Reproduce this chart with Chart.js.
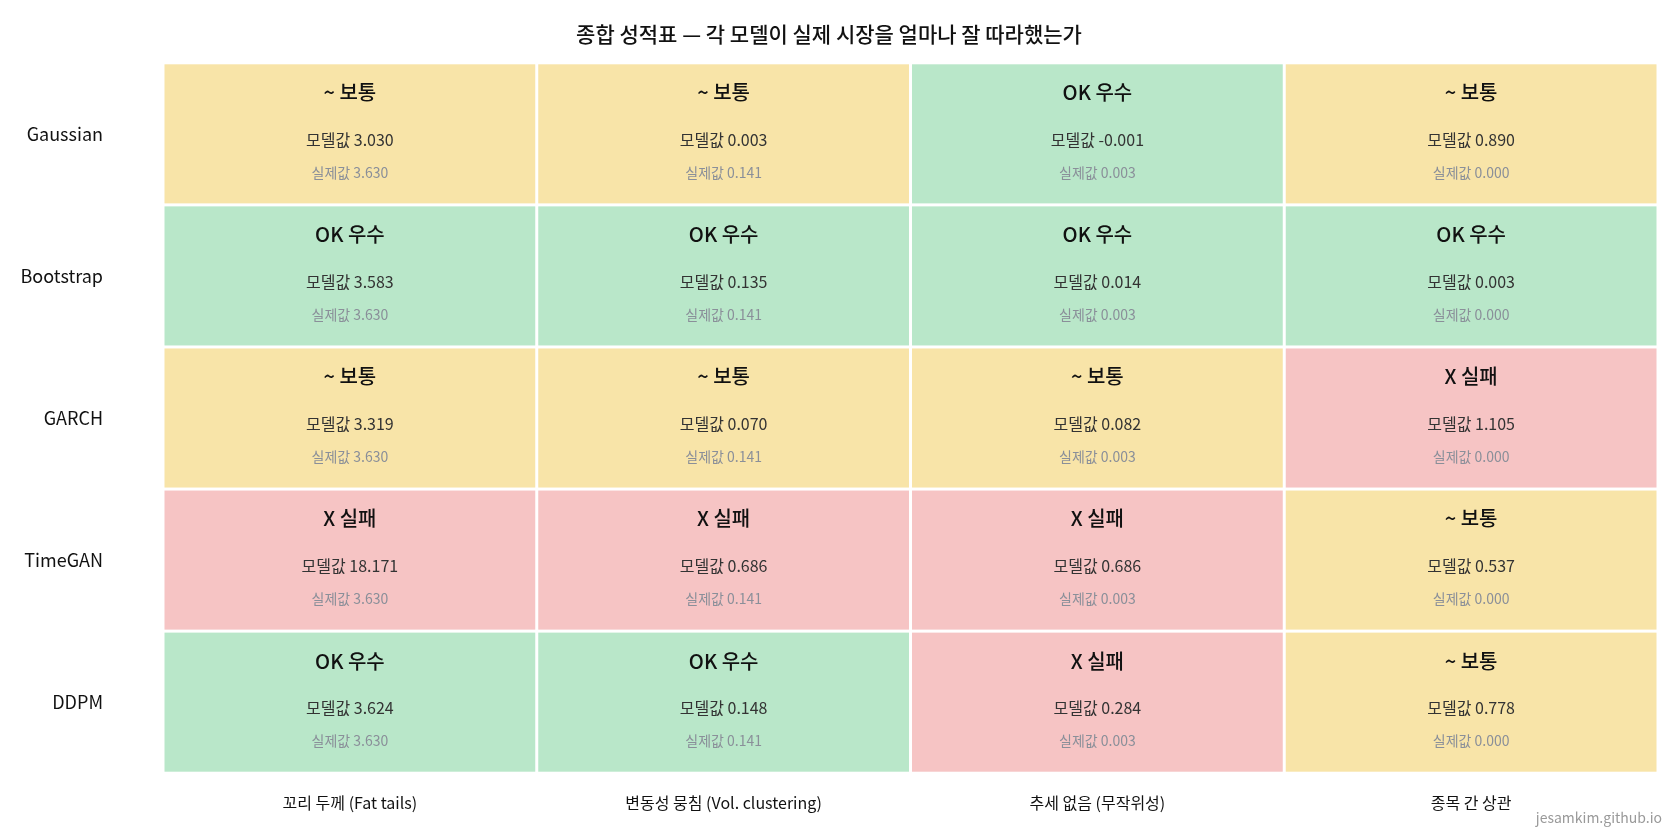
<!DOCTYPE html>
<html><head><meta charset="utf-8">
<script src="https://cdn.jsdelivr.net/npm/chart.js@4"></script>
<style>html,body{margin:0;background:#fff}#w{width:1674px;height:836px}</style>
</head><body><div id="w"><canvas id="c"></canvas></div>
<script>
const models = ["Gaussian","Bootstrap","GARCH","TimeGAN","DDPM"];
const metrics = ["꼬리 두께 (Fat tails)","변동성 뭉침 (Vol. clustering)","추세 없음 (무작위성)","종목 간 상관"];
const realValues = [3.630, 0.141, 0.003, 0.000];
const modelValues = [
  [3.030, 0.003, -0.001, 0.890],
  [3.583, 0.135, 0.014, 0.003],
  [3.319, 0.070, 0.082, 1.105],
  [18.171, 0.686, 0.686, 0.537],
  [3.624, 0.148, 0.284, 0.778]
];
const grades = [
  ["mid","mid","ok","mid"],
  ["ok","ok","ok","ok"],
  ["mid","mid","mid","bad"],
  ["bad","bad","bad","mid"],
  ["ok","ok","bad","mid"]
];
const gradeLabel = {ok:"OK 우수", mid:"~ 보통", bad:"X 실패"};
const gradeColor = {ok:"#b9e7c9", mid:"#f8e4a8", bad:"#f6c4c4"};
const FONT = "'Noto Sans CJK KR','Noto Sans',sans-serif";

const pts = [];
models.forEach((m,r)=>metrics.forEach((k,c)=>pts.push({x:c,y:r,g:grades[r][c],v:modelValues[r][c]})));

const cells = {
  id:'cells',
  beforeDatasetsDraw(chart){
    const ctx = chart.ctx, xs = chart.scales.x, ys = chart.scales.y;
    pts.forEach(p=>{
      const x0 = xs.getPixelForValue(p.x-0.5), x1 = xs.getPixelForValue(p.x+0.5);
      const y0 = ys.getPixelForValue(p.y-0.5), y1 = ys.getPixelForValue(p.y+0.5);
      const h = y1-y0, cx=(x0+x1)/2;
      ctx.save();
      ctx.fillStyle = gradeColor[p.g];
      ctx.fillRect(x0+1.5,y0+1.5,x1-x0-3,h-3);
      ctx.textAlign='center'; ctx.textBaseline='middle';
      ctx.fillStyle='#111'; ctx.font="500 20px "+FONT;
      ctx.fillText(gradeLabel[p.g],cx,y0+h*0.21);
      ctx.fillStyle='#333'; ctx.font="16px "+FONT;
      ctx.fillText("모델값 "+p.v.toFixed(3),cx,y0+h*0.54);
      ctx.fillStyle='#8a8f99'; ctx.font="14px "+FONT;
      ctx.fillText("실제값 "+realValues[p.x].toFixed(3),cx,y0+h*0.77);
      ctx.restore();
    });
    ctx.save();
    ctx.fillStyle='#999'; ctx.font="14px "+FONT; ctx.textAlign='right'; ctx.textBaseline='middle';
    ctx.fillText("jesamkim.github.io",1662,818);
    ctx.restore();
  }
};

new Chart(document.getElementById('c'),{
  type:'scatter',
  data:{datasets:[{data:pts,pointRadius:0}]},
  options:{
    responsive:true,maintainAspectRatio:false,animation:false,
    layout:{padding:{left:0,right:16,top:2,bottom:6}},
    plugins:{legend:{display:false},tooltip:{enabled:false},
      title:{display:true,text:"종합 성적표 — 각 모델이 실제 시장을 얼마나 잘 따라했는가",
        font:{family:FONT,size:21,weight:'500'},color:'#111',padding:{top:8,bottom:16}}},
    scales:{
      x:{type:'linear',min:-0.5,max:3.5,grid:{display:false},border:{display:false},
        afterBuildTicks(a){a.ticks=metrics.map((_,i)=>({value:i}));},
        ticks:{callback:v=>metrics[v],color:'#111',font:{family:FONT,size:16},padding:12}},
      y:{type:'linear',reverse:true,min:-0.5,max:4.5,grid:{display:false},border:{display:false},
        afterBuildTicks(a){a.ticks=models.map((_,i)=>({value:i}));},
        afterFit(a){a.width=163;},
        ticks:{callback:v=>models[v],color:'#111',font:{family:FONT,size:18},padding:52}}
    }
  },
  plugins:[cells]
});
</script></body></html>
